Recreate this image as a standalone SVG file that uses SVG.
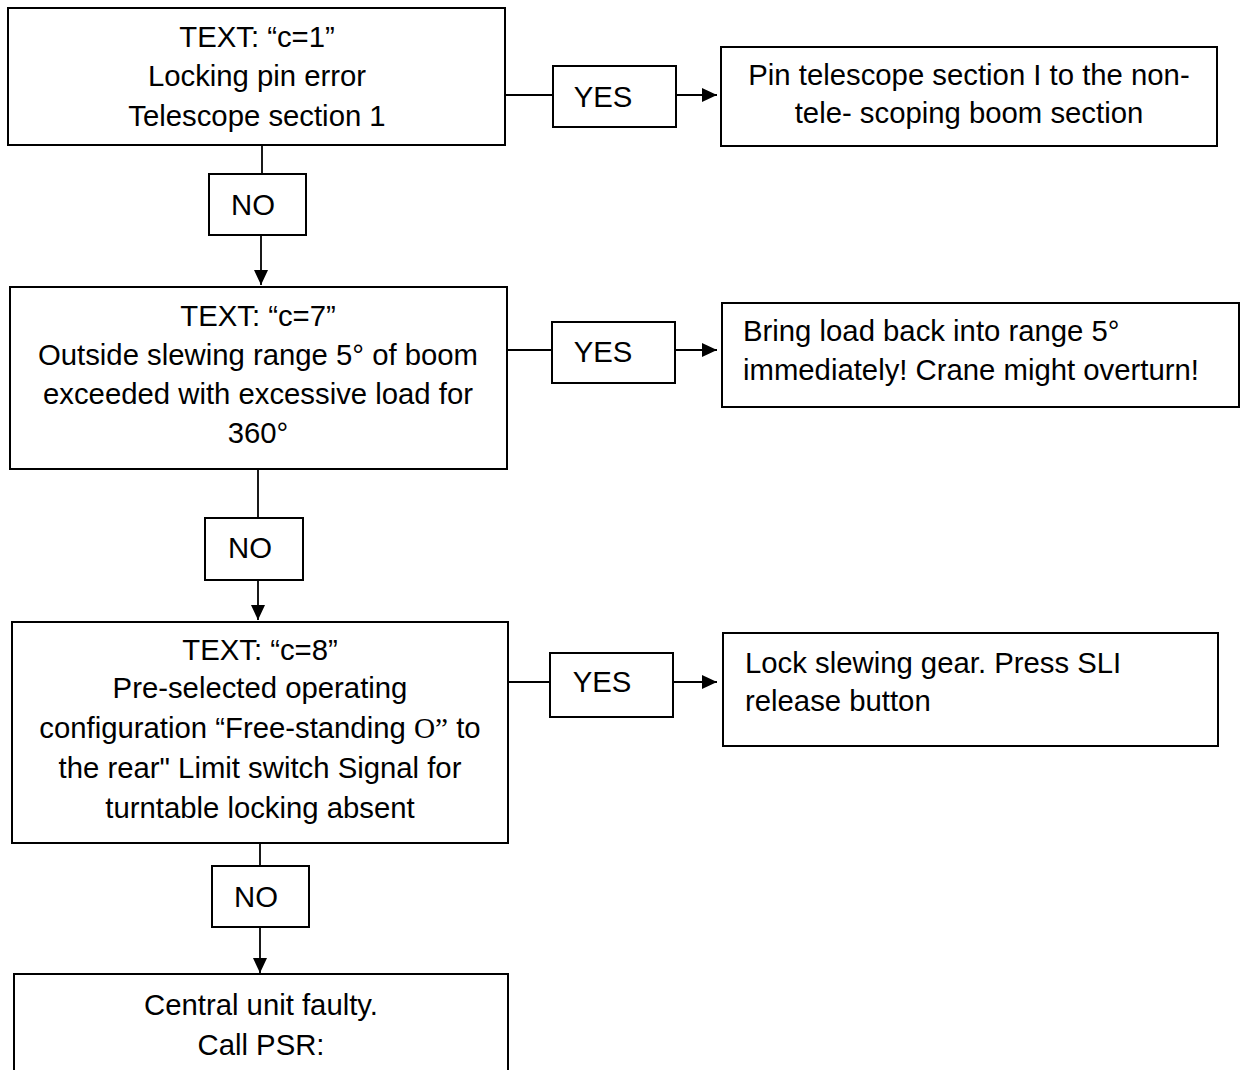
<svg xmlns="http://www.w3.org/2000/svg" width="1241" height="1070" viewBox="0 0 1241 1070">
<style>
.box{fill:#fff;stroke:#000;stroke-width:2}
.ln{fill:none;stroke:#000;stroke-width:1.8}
text{font-family:"Liberation Sans",Arial,sans-serif;font-size:29.3px;fill:#000}
.c{text-anchor:middle}
.serif{font-family:"Liberation Serif","Times New Roman",serif}
</style>
<defs>
<marker id="ah" markerUnits="userSpaceOnUse" markerWidth="16" markerHeight="16" refX="15" refY="7" orient="auto">
<path d="M0,0 L15,7 L0,14 z" fill="#000"/>
</marker>
</defs>
<rect width="1241" height="1070" fill="#fff"/>
<g id="connectors">
<line class="ln" x1="262" y1="145" x2="262" y2="174"/>
<line class="ln" x1="261" y1="235" x2="261" y2="285" marker-end="url(#ah)"/>
<line class="ln" x1="258" y1="469" x2="258" y2="518"/>
<line class="ln" x1="258" y1="580" x2="258" y2="620" marker-end="url(#ah)"/>
<line class="ln" x1="260" y1="843" x2="260" y2="866"/>
<line class="ln" x1="260" y1="927" x2="260" y2="973" marker-end="url(#ah)"/>
<line class="ln" x1="505" y1="95" x2="553" y2="95"/>
<line class="ln" x1="676" y1="95" x2="717" y2="95" marker-end="url(#ah)"/>
<line class="ln" x1="504" y1="350" x2="552" y2="350"/>
<line class="ln" x1="675" y1="350" x2="717" y2="350" marker-end="url(#ah)"/>
<line class="ln" x1="505" y1="682" x2="550" y2="682"/>
<line class="ln" x1="673" y1="682" x2="717" y2="682" marker-end="url(#ah)"/>
</g>
<g id="node-c1">
<rect class="box" x="8" y="8" width="497" height="137"/>
<text class="c" x="257" y="47">TEXT: “c=1”</text>
<text class="c" x="257" y="86">Locking pin error</text>
<text class="c" x="257" y="126">Telescope section 1</text>
</g>
<g id="node-no1">
<rect class="box" x="209" y="174" width="97" height="61"/>
<text class="c" x="253" y="215">NO</text>
</g>
<g id="node-yes1">
<rect class="box" x="553" y="66" width="123" height="61"/>
<text class="c" x="603" y="107">YES</text>
</g>
<g id="node-r1">
<rect class="box" x="721" y="47" width="496" height="99"/>
<text class="c" x="969" y="85">Pin telescope section I to the non-</text>
<text class="c" x="969" y="123">tele- scoping boom section</text>
</g>
<g id="node-c7">
<rect class="box" x="10" y="287" width="497" height="182"/>
<text class="c" x="258" y="326">TEXT: “c=7”</text>
<text class="c" x="258" y="365">Outside slewing range 5° of boom</text>
<text class="c" x="258" y="404">exceeded with excessive load for</text>
<text class="c" x="258" y="443">360°</text>
</g>
<g id="node-no2">
<rect class="box" x="205" y="518" width="98" height="62"/>
<text class="c" x="250" y="558">NO</text>
</g>
<g id="node-yes2">
<rect class="box" x="552" y="322" width="123" height="61"/>
<text class="c" x="603" y="362">YES</text>
</g>
<g id="node-r2">
<rect class="box" x="722" y="303" width="517" height="104"/>
<text x="743" y="341">Bring load back into range 5°</text>
<text x="743" y="380">immediately! Crane might overturn!</text>
</g>
<g id="node-c8">
<rect class="box" x="12" y="622" width="496" height="221"/>
<text class="c" x="260" y="660">TEXT: “c=8”</text>
<text class="c" x="260" y="698">Pre-selected operating</text>
<text class="c" x="260" y="738">configuration “Free-standing <tspan class="serif">O”</tspan> to</text>
<text class="c" x="260" y="778">the rear" Limit switch Signal for</text>
<text class="c" x="260" y="818">turntable locking absent</text>
</g>
<g id="node-no3">
<rect class="box" x="212" y="866" width="97" height="61"/>
<text class="c" x="256" y="907">NO</text>
</g>
<g id="node-yes3">
<rect class="box" x="550" y="653" width="123" height="64"/>
<text class="c" x="602" y="692">YES</text>
</g>
<g id="node-r3">
<rect class="box" x="723" y="633" width="495" height="113"/>
<text x="745" y="673">Lock slewing gear. Press SLI</text>
<text x="745" y="711">release button</text>
</g>
<g id="node-end">
<rect class="box" x="14" y="974" width="494" height="130"/>
<text class="c" x="261" y="1015">Central unit faulty.</text>
<text class="c" x="261" y="1055">Call PSR:</text>
</g>
</svg>
